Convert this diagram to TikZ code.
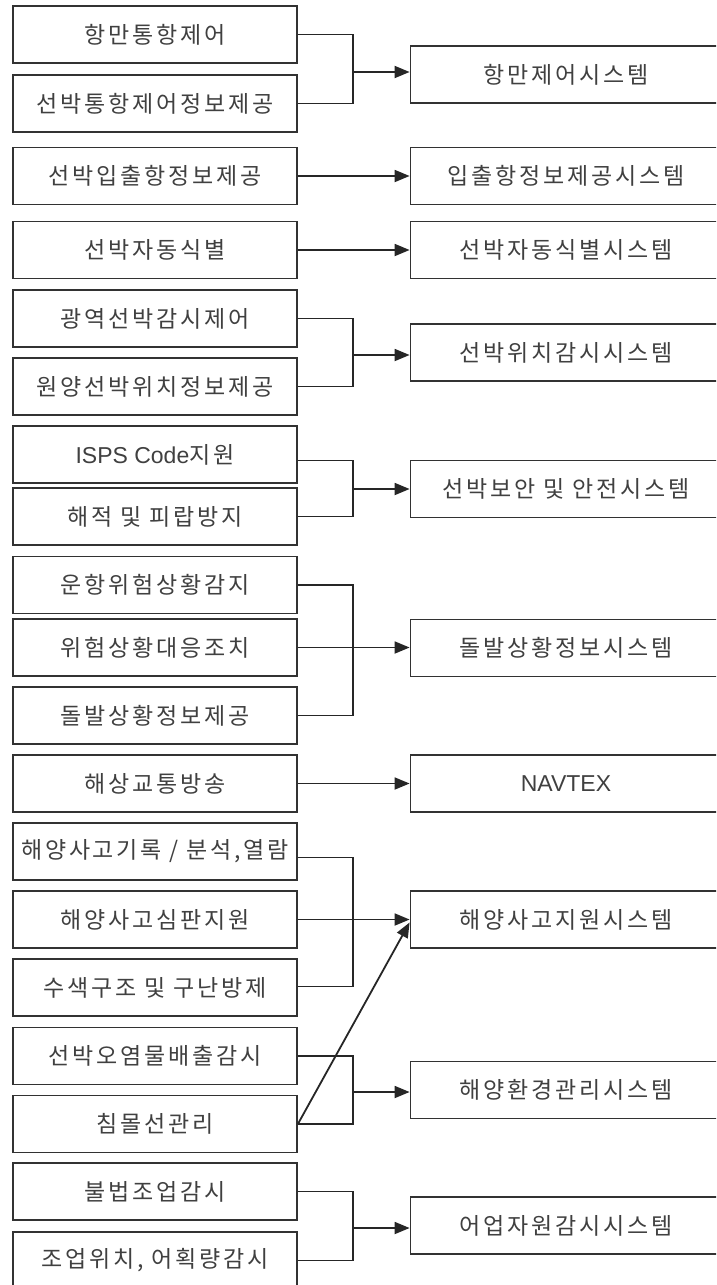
\documentclass[tikz,border=0pt]{standalone}
\usepackage{fontspec}
\newfontfamily\kr{Noto Sans CJK KR}[LetterSpace=12]
\newfontfamily\lat{Liberation Sans}
\usetikzlibrary{arrows.meta}
\definecolor{txtgray}{RGB}{64,64,64}
\definecolor{boxgray}{RGB}{50,50,50}
\tikzset{
  lbox/.style={draw=boxgray, line width=1.8pt, minimum width=284pt, minimum height=57pt, inner sep=0pt,
    font=\kr\fontsize{23pt}{27pt}\selectfont, text=txtgray},
  rbox/.style={lbox, minimum width=311pt},
  conn/.style={draw=black!85, line width=1.8pt},
  arr/.style={conn, -{Triangle[length=15pt,width=12pt]}}
}
\begin{document}
\begin{tikzpicture}[x=1pt,y=-1pt]
\path[use as bounding box, clip] (0,0) rectangle (716,1285);
\fill[white] (0,0) rectangle (716,1285);
% left boxes
\node[lbox] (L1) at (155,34.5) {항만통항제어};
\node[lbox] (L2) at (155,103.5) {선박통항제어정보제공};
\node[lbox] (L3) at (155,176) {선박입출항정보제공};
\node[lbox] (L4) at (155,250) {선박자동식별};
\node[lbox] (L5) at (155,318.5) {광역선박감시제어};
\node[lbox] (L6) at (155,386.5) {원양선박위치정보제공};
\node[lbox] (L7) at (155,454.5) {{\lat\fontsize{23pt}{27pt}\selectfont ISPS Code}지원};
\node[lbox] (L8) at (155,516.5) {해적 및 피랍방지};
\node[lbox] (L9) at (155,585) {운항위험상황감지};
\node[lbox] (L10) at (155,647.5) {위험상황대응조치};
\node[lbox] (L11) at (155,715.5) {돌발상황정보제공};
\node[lbox] (L12) at (155,783.5) {해상교통방송};
\node[lbox] (L13) at (155,851.5) {해양사고기록 / 분석,열람};
\node[lbox] (L14) at (155,919.5) {해양사고심판지원};
\node[lbox] (L15) at (155,987.5) {수색구조 및 구난방제};
\node[lbox] (L16) at (155,1056) {선박오염물배출감시};
\node[lbox] (L17) at (155,1124) {침몰선관리};
\node[lbox] (L18) at (155,1191.5) {불법조업감시};
\node[lbox] (L19) at (155,1260.5) {조업위치, 어획량감시};
% right boxes
\node[rbox] (R1) at (566,74.5) {항만제어시스템};
\node[rbox] (R2) at (566,176) {입출항정보제공시스템};
\node[rbox] (R3) at (566,250) {선박자동식별시스템};
\node[rbox] (R4) at (566,352.5) {선박위치감시시스템};
\node[rbox] (R5) at (566,489) {선박보안 및 안전시스템};
\node[rbox] (R6) at (566,648) {돌발상황정보시스템};
\node[rbox] (R7) at (566,783.5) {\lat\fontsize{23pt}{27pt}\selectfont NAVTEX};
\node[rbox] (R8) at (566,919.5) {해양사고지원시스템};
\node[rbox] (R9) at (566,1090) {해양환경관리시스템};
\node[rbox] (R10) at (566,1225.5) {어업자원감시시스템};
% junction points
\coordinate (j1) at (353,72);
\coordinate (j4) at (353,355);
\coordinate (j5) at (353,489);
\coordinate (j6) at (353,647.5);
\coordinate (j8) at (353,919.5);
\coordinate (j9) at (353,1092);
\coordinate (j10) at (353,1228);
% connectors
\draw[conn] (L1.east) -| (j1) |- (L2.east);
\draw[arr] (j1) -- (j1 -| R1.west);
\draw[arr] (L3.east) -- (L3.east -| R2.west);
\draw[arr] (L4.east) -- (L4.east -| R3.west);
\draw[conn] (L5.east) -| (j4) |- (L6.east);
\draw[arr] (j4) -- (j4 -| R4.west);
\draw[conn] ([yshift=-6pt]L7.east) -| (j5) |- (L8.east);
\draw[arr] (j5) -- (j5 -| R5.west);
\draw[conn] (L9.east) -| (j6) |- (L11.east);
\draw[arr] (L10.east) -- (L10.east -| R6.west);
\draw[arr] (L12.east) -- (L12.east -| R7.west);
\draw[conn] ([yshift=-6pt]L13.east) -| (j8) |- ([yshift=1pt]L15.east);
\draw[arr] (L14.east) -- (L14.east -| R8.west);
\draw[conn] (L16.east) -| (j9) |- (L17.east);
\draw[arr] (j9) -- (j9 -| R9.west);
\draw[arr] (L17.east) -- ([yshift=-3pt]R8.west);
\draw[conn] (L18.east) -| (j10) |- (L19.east);
\draw[arr] (j10) -- (j10 -| R10.west);
\end{tikzpicture}
\end{document}
